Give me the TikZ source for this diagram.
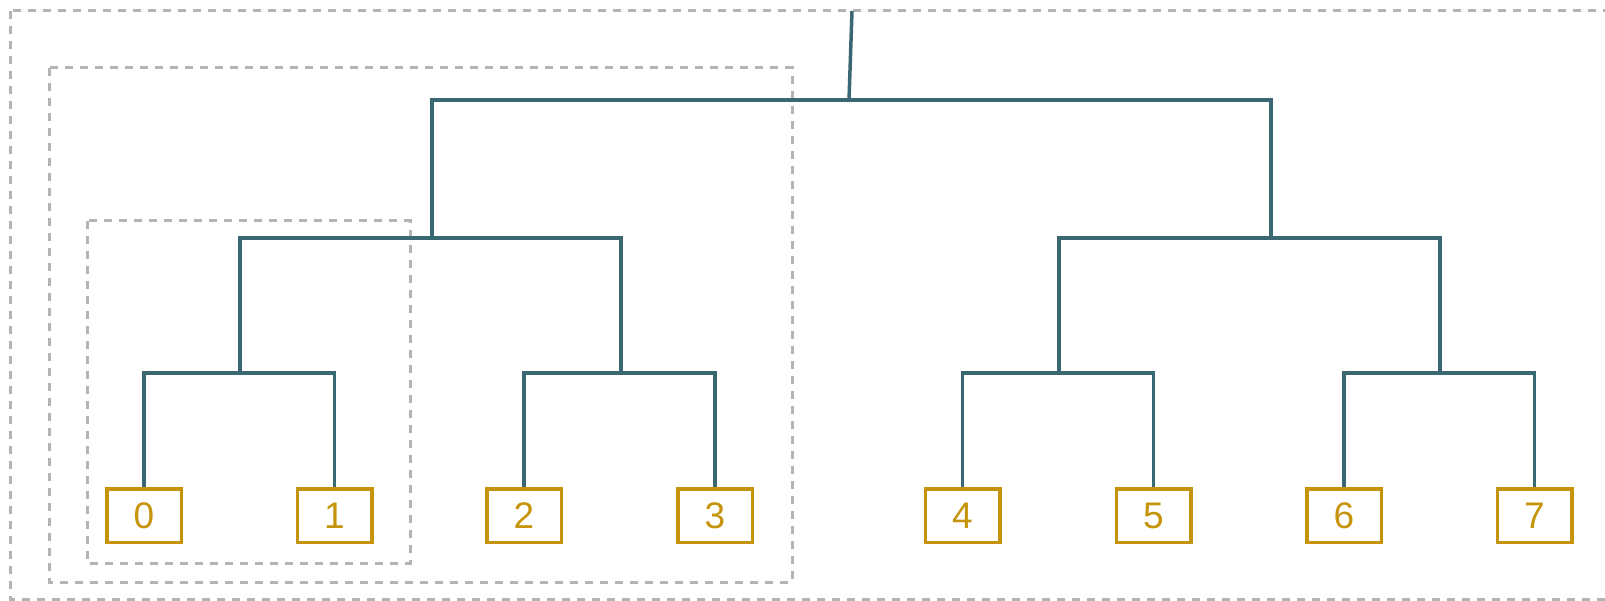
\documentclass[tikz,border=0pt]{standalone}
\usepackage{fontspec}
\setmainfont{Liberation Sans}
\definecolor{treeteal}{HTML}{3A6872}
\definecolor{leafgold}{HTML}{C6940A}
\definecolor{groupgray}{HTML}{B4B4B4}
\begin{document}
\begin{tikzpicture}[x=1pt,y=-1pt,
  leafbox/.style={draw=leafgold,line width=3.5pt,text=leafgold,minimum width=74.5pt,minimum height=53.5pt,inner sep=0pt,font=\fontsize{37}{42}\selectfont},
  branch/.style={draw=treeteal,line width=3.5pt,line join=miter},
  groupbox/.style={draw=groupgray,line width=3pt,dash pattern=on 8pt off 7pt}]
\useasboundingbox (0,0) rectangle (1605,601);
% group frames
\draw[groupbox] (10,11) rectangle (1640,599);
\draw[groupbox] (49,68) rectangle (792,582);
\draw[groupbox] (87,221) rectangle (410,563);
% leaves
\node[leafbox] (l0) at (144,515.5) {0};
\node[leafbox] (l1) at (334.5,515.5) {1};
\node[leafbox] (l2) at (524,515.5) {2};
\node[leafbox] (l3) at (715,515.5) {3};
\node[leafbox] (l4) at (962.5,515.5) {4};
\node[leafbox] (l5) at (1153.5,515.5) {5};
\node[leafbox] (l6) at (1344,515.5) {6};
\node[leafbox] (l7) at (1534.5,515.5) {7};
% junctions
\coordinate (n3a) at (240,373);
\coordinate (n3b) at (621,373);
\coordinate (n3c) at (1059,373);
\coordinate (n3d) at (1440,373);
\coordinate (n2a) at (432,238);
\coordinate (n2b) at (1271,238);
\coordinate (n1) at (849,100);
\coordinate (top) at (852,11);
% tree
\draw[branch] (l0.north) |- (n3a) -| (l1.north);
\draw[branch] (l2.north) |- (n3b) -| (l3.north);
\draw[branch] (l4.north) |- (n3c) -| (l5.north);
\draw[branch] (l6.north) |- (n3d) -| (l7.north);
\draw[branch] (n3a) |- (n2a) -| (n3b);
\draw[branch] (n3c) |- (n2b) -| (n3d);
\draw[branch] (n2a) |- (n1) -| (n2b);
\draw[branch] (n1) -- (top);
\end{tikzpicture}
\end{document}
